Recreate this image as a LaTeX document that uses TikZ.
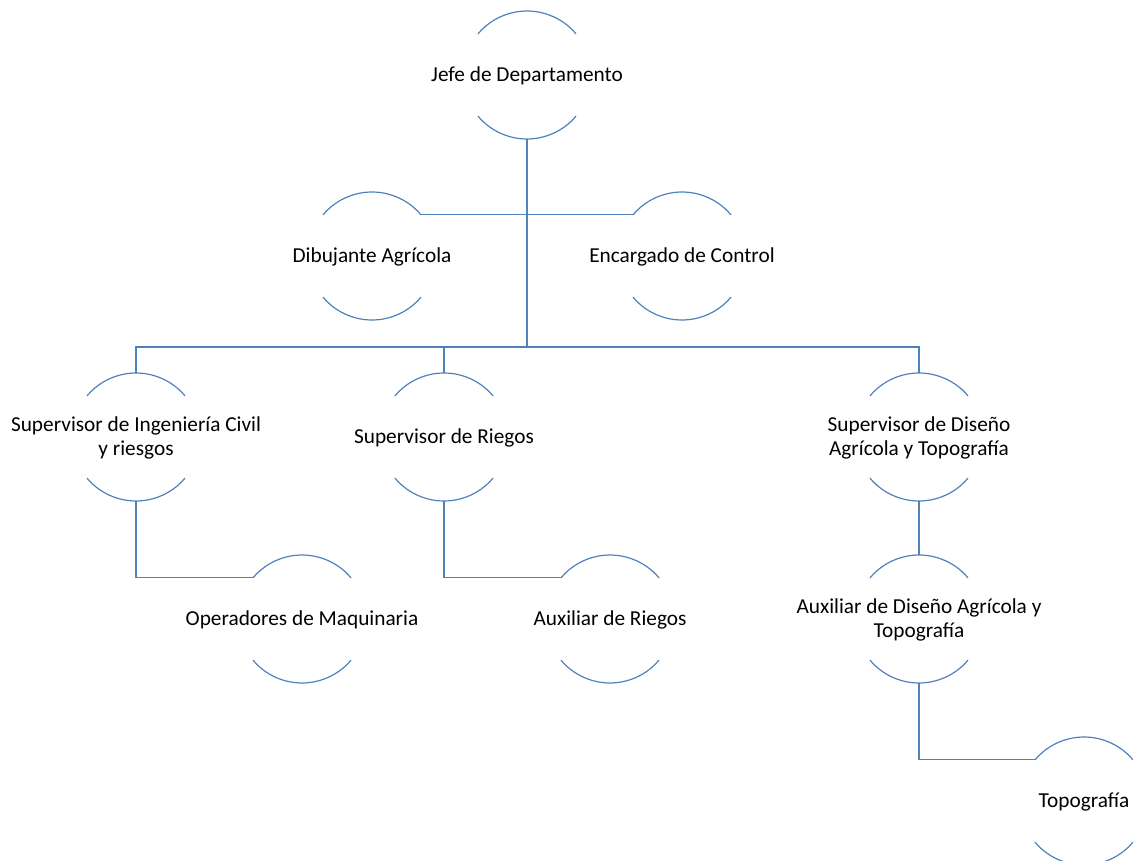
\documentclass[tikz,border=0pt]{standalone}
\usepackage{fontspec}
\setmainfont{Carlito}
\definecolor{linkblue}{RGB}{79,129,189}
% zero-size, vertically centred label text so the circle keeps its radius
\newcommand\roletext[1]{\makebox[0pt]{\smash{\raisebox{-7.2bp}{\begin{tabular}{@{}c@{}}#1\end{tabular}}}}}
\begin{document}
\begin{tikzpicture}[x=1bp,y=1bp,
  role/.style={circle, minimum size=128bp, inner sep=0pt, outer sep=0pt,
    font=\fontsize{21.3bp}{24bp}\selectfont},
  rim/.style={draw=linkblue, line width=1.2bp},
  link/.style={draw=linkblue, line width=1.2bp}]
\path[use as bounding box, clip] (0,0) rectangle (1133,-861);

% positions
\node[role] (jefe) at (527,-75)  {\roletext{Jefe de Departamento}};
\node[role] (dib)  at (372,-256) {\roletext{Dibujante Agrícola}};
\node[role] (enc)  at (682,-256) {\roletext{Encargado de Control}};
\node[role] (ing)  at (136,-437) {\roletext{Supervisor de Ingeniería Civil\\y riesgos}};
\node[role] (rie)  at (444,-437) {\roletext{Supervisor de Riegos}};
\node[role] (dis)  at (919,-437) {\roletext{Supervisor de Diseño\\Agrícola y Topografía}};
\node[role] (ope)  at (302,-619) {\roletext{Operadores de Maquinaria}};
\node[role] (aur)  at (610,-619) {\roletext{Auxiliar de Riegos}};
\node[role] (aud)  at (919,-619) {\roletext{Auxiliar de Diseño Agrícola y\\Topografía}};
\node[role] (topo) at (1084,-801) {\roletext{Topografía}};

% upper and lower rims of every circle
\foreach \n in {jefe,dib,enc,ing,rie,dis,ope,aur,aud,topo}
  \draw[rim] (\n.40) arc[start angle=40, end angle=140, radius=64]
             (\n.220) arc[start angle=220, end angle=320, radius=64];

% connectors
\coordinate (bar) at (0,-347);
\draw[link] (jefe.south) -- (jefe.south |- bar);
\draw[link] (ing.north) -- (ing.north |- bar) -- (dis.north |- bar) -- (dis.north);
\draw[link] (rie.north) -- (rie.north |- bar);
\draw[link] (dib.40) -- (enc.140);
\draw[link] (ing.south) |- (ope.140);
\draw[link] (rie.south) |- (aur.140);
\draw[link] (dis.south) -- (aud.north);
\draw[link] (aud.south) |- (topo.140);
\end{tikzpicture}
\end{document}
